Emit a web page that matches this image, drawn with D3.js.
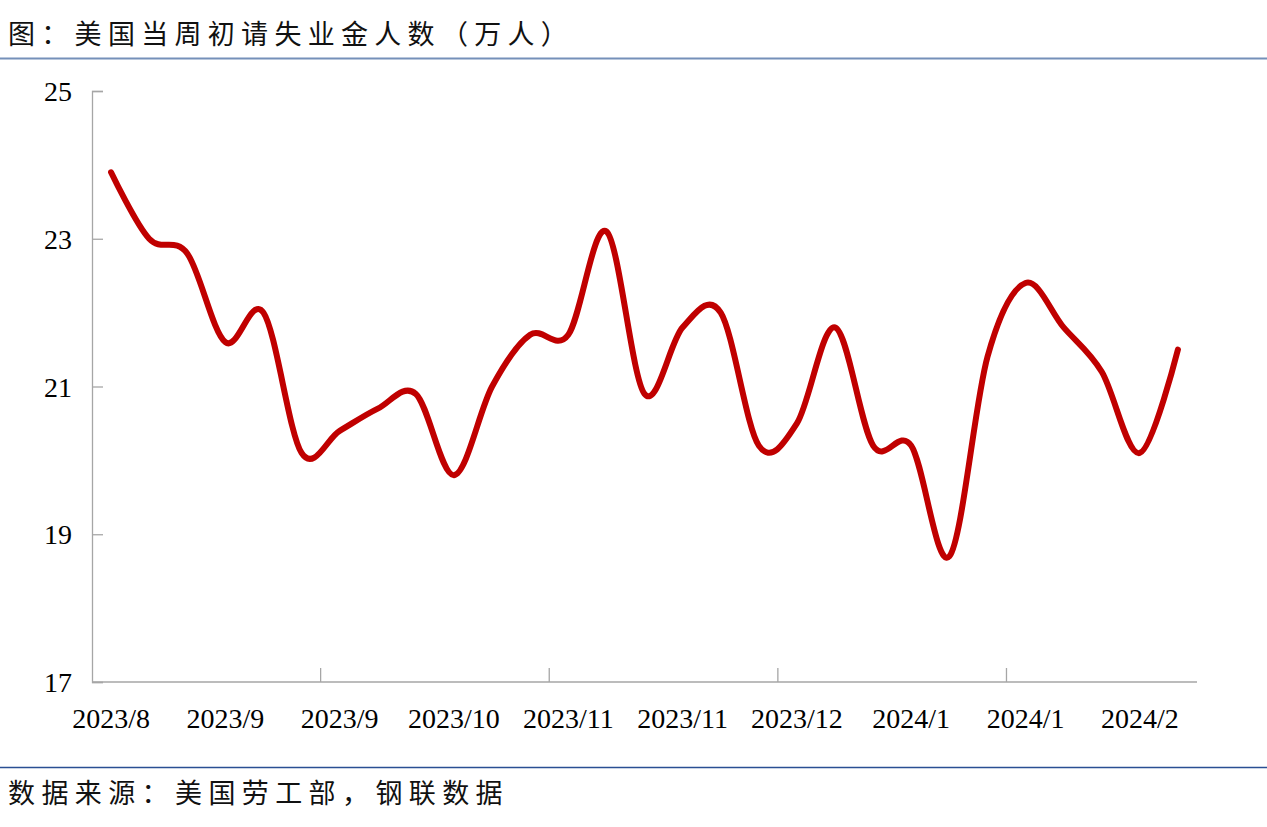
<!DOCTYPE html>
<html>
<head>
<meta charset="utf-8">
<script src="https://cdn.jsdelivr.net/npm/d3@7"></script>
<style>
  html, body { margin: 0; padding: 0; background: #fff; }
  svg { display: block; }
</style>
</head>
<body>
<script>
// ---- data ----
const weeks = ["2023-08-12","2023-08-19","2023-08-26","2023-09-02","2023-09-09","2023-09-16","2023-09-23",
  "2023-09-30","2023-10-07","2023-10-14","2023-10-21","2023-10-28","2023-11-04","2023-11-11","2023-11-18",
  "2023-11-25","2023-12-02","2023-12-09","2023-12-16","2023-12-23","2023-12-30","2024-01-06","2024-01-13",
  "2024-01-20","2024-01-27","2024-02-03","2024-02-10","2024-02-17","2024-02-24"];
const claims = [23.9, 23.0, 22.8, 21.6, 22.0, 20.1, 20.4, 20.7, 20.9, 19.8, 21.0, 21.7, 21.7, 23.1, 20.9,
  21.8, 22.0, 20.2, 20.5, 21.8, 20.2, 20.2, 18.7, 21.4, 22.4, 21.8, 21.2, 20.1, 21.5];
const labelIndex = [0, 3, 6, 9, 12, 15, 18, 21, 24, 27];
const tickLabels = ["2023/8","2023/9","2023/9","2023/10","2023/11","2023/11","2023/12","2024/1","2024/1","2024/2"];
const tickMarkIndex = [6, 12, 18, 24];
const yTicks = [17, 19, 21, 23, 25];
const titleText = "图：美国当周初请失业金人数（万人）";
const sourceText = "数据来源：美国劳工部，钢联数据";

// ---- layout ----
const W = 1267, H = 827;
const svg = d3.select("body").append("svg").attr("width", W).attr("height", H);

const cjk = "'Noto Sans CJK SC', 'Noto Sans', sans-serif";
const serif = "'Liberation Serif', 'Times New Roman', serif";

svg.append("text").attr("x", 8).attr("y", 32).attr("dominant-baseline", "central")
  .style("font-family", cjk).style("font-size", "27px").style("letter-spacing", "6.3px")
  .attr("fill", "#111").text(titleText);
svg.append("line").attr("x1", 0).attr("x2", W).attr("y1", 58.5).attr("y2", 58.5)
  .attr("stroke", "#7590b9").attr("stroke-width", 2);

svg.append("line").attr("x1", 0).attr("x2", W).attr("y1", 767.5).attr("y2", 767.5)
  .attr("stroke", "#2a4f93").attr("stroke-width", 1.5);
svg.append("text").attr("x", 8).attr("y", 791).attr("dominant-baseline", "central")
  .style("font-family", cjk).style("font-size", "27px").style("letter-spacing", "6.4px")
  .attr("fill", "#111").text(sourceText);

// ---- scales ----
const x = d3.scaleBand().domain(d3.range(weeks.length)).range([92, 1197]).paddingInner(0).paddingOuter(0);
const y = d3.scaleLinear().domain([17, 25]).range([682, 91]);
const cx = i => x(i) + x.bandwidth() / 2;

const axisColor = "#a6a6a6";

// y axis
const yAxis = d3.axisLeft(y).tickValues(yTicks).tickSize(-11).tickPadding(20).tickFormat(d3.format("d"));
const gy = svg.append("g").attr("transform", "translate(92,0)").call(yAxis);
gy.select(".domain").attr("stroke", axisColor).attr("stroke-width", 1.3);
gy.selectAll(".tick line").attr("stroke", axisColor).attr("stroke-width", 1.3);
gy.selectAll(".tick text").style("font-family", serif).style("font-size", "28px").attr("fill", "#000")
  .attr("dy", "0.34em");

// x axis line
svg.append("line").attr("x1", 92).attr("x2", 1197).attr("y1", 682).attr("y2", 682)
  .attr("stroke", axisColor).attr("stroke-width", 1.3);
// x tick marks at category boundaries
svg.append("g").selectAll("line").data(tickMarkIndex).join("line")
  .attr("x1", i => x(i)).attr("x2", i => x(i)).attr("y1", 682).attr("y2", 668)
  .attr("stroke", axisColor).attr("stroke-width", 1.3);
// x labels
svg.append("g").selectAll("text").data(labelIndex).join("text")
  .attr("x", i => cx(i)).attr("y", 728).attr("text-anchor", "middle")
  .style("font-family", serif).style("font-size", "28px").attr("fill", "#000")
  .text((i, k) => tickLabels[k]);

// line
const line = d3.line().x((d, i) => cx(i)).y(d => y(d)).curve(d3.curveCatmullRom.alpha(0));
svg.append("path").datum(claims).attr("d", line).attr("fill", "none")
  .attr("stroke", "#c00000").attr("stroke-width", 6).attr("stroke-linecap", "round").attr("stroke-linejoin", "round");
</script>
</body>
</html>
